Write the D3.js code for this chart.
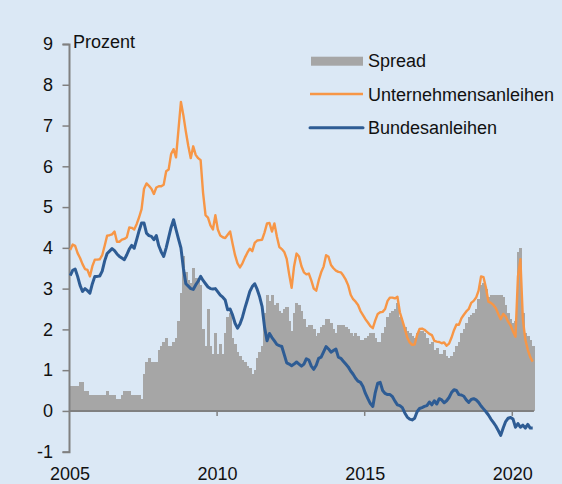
<!DOCTYPE html>
<html>
<head>
<meta charset="utf-8">
<script src="https://cdn.jsdelivr.net/npm/d3@7"></script>
<style>
  html, body { margin: 0; padding: 0; background: #dbe8f5; }
  svg { display: block; }
  text { font-family: "Liberation Sans", Arial, sans-serif; fill: #111; }
</style>
</head>
<body>
<svg id="chart" width="562" height="484"></svg>
<script>
// ---- data (monthly, January 2005 – September 2020) ----
const startYear = 2005;
const bundesanleihen = [
  3.32,3.45,3.48,3.30,3.08,2.93,3.00,2.95,2.89,3.12,3.30,3.30,
  3.31,3.43,3.68,3.86,3.92,3.98,3.93,3.85,3.79,3.75,3.71,3.83,
  3.97,4.06,3.99,4.20,4.42,4.61,4.61,4.36,4.30,4.28,4.20,4.30,
  4.05,3.90,3.79,4.00,4.25,4.50,4.69,4.45,4.22,4.00,3.50,3.12,
  3.06,3.00,2.98,3.09,3.18,3.30,3.20,3.12,3.04,3.00,2.99,3.00,
  2.92,2.84,2.79,2.72,2.48,2.50,2.35,2.15,2.03,2.13,2.30,2.52,
  2.72,2.93,3.05,3.12,2.98,2.80,2.56,2.05,1.72,1.90,1.80,1.72,
  1.63,1.60,1.58,1.38,1.18,1.15,1.11,1.15,1.20,1.15,1.10,1.15,
  1.28,1.25,1.10,1.02,1.12,1.29,1.32,1.45,1.58,1.52,1.44,1.48,
  1.52,1.32,1.29,1.22,1.15,1.08,0.98,0.90,0.80,0.73,0.70,0.60,
  0.43,0.30,0.18,0.11,0.45,0.68,0.70,0.50,0.43,0.40,0.40,0.35,
  0.24,0.15,0.13,0.08,-0.05,-0.15,-0.20,-0.22,-0.18,-0.02,0.06,0.08,
  0.11,0.13,0.22,0.15,0.25,0.17,0.30,0.27,0.20,0.25,0.33,0.45,
  0.52,0.50,0.40,0.39,0.36,0.27,0.21,0.28,0.30,0.27,0.21,0.12,
  0.05,-0.02,-0.10,-0.20,-0.28,-0.37,-0.48,-0.60,-0.42,-0.26,-0.18,-0.16,
  -0.20,-0.40,-0.31,-0.40,-0.35,-0.42,-0.33,-0.42,-0.42
];
const unternehmensanleihen = [
  3.95,4.08,4.05,3.87,3.75,3.60,3.48,3.46,3.30,3.55,3.71,3.71,
  3.72,3.82,4.05,4.30,4.31,4.33,4.40,4.15,4.15,4.20,4.22,4.26,
  4.50,4.49,4.45,4.58,4.75,4.95,5.45,5.58,5.52,5.45,5.32,5.48,
  5.51,5.51,5.55,5.88,5.92,6.30,6.42,6.22,6.90,7.58,7.25,6.85,
  6.50,6.20,6.49,6.28,6.20,6.15,5.35,4.80,4.74,4.55,4.45,4.80,
  4.45,4.30,4.26,4.24,4.32,4.40,4.10,3.82,3.62,3.52,3.62,3.76,
  3.88,3.98,3.92,4.12,4.18,4.19,4.20,4.38,4.60,4.61,4.40,4.60,
  4.28,4.02,3.97,3.90,3.73,3.35,3.02,3.55,3.86,3.79,3.55,3.40,
  3.35,3.37,3.20,3.00,2.95,3.20,3.40,3.54,3.82,3.78,3.58,3.50,
  3.44,3.41,3.40,3.32,3.22,3.08,2.85,2.74,2.68,2.60,2.45,2.35,
  2.25,2.17,2.08,2.03,2.22,2.38,2.42,2.43,2.50,2.70,2.78,2.78,
  2.76,2.80,2.42,2.22,2.02,1.80,1.68,1.62,1.63,1.86,2.01,2.02,
  1.99,1.94,1.89,1.86,1.72,1.70,1.69,1.66,1.68,1.60,1.65,1.80,
  1.98,2.12,2.11,2.27,2.36,2.44,2.50,2.65,2.70,2.78,2.95,3.30,
  3.28,3.02,2.68,2.65,2.60,2.52,2.38,2.25,2.38,2.32,2.19,2.10,
  1.95,1.82,3.30,3.72,2.25,1.75,1.50,1.32,1.21
];
const spread = [
  0.6,0.6,0.6,0.6,0.7,0.7,0.5,0.5,0.4,0.4,0.4,0.4,
  0.4,0.4,0.4,0.5,0.4,0.4,0.4,0.3,0.3,0.4,0.5,0.5,
  0.5,0.4,0.4,0.4,0.4,0.3,0.9,1.2,1.3,1.2,1.2,1.2,
  1.5,1.6,1.7,1.8,1.6,1.6,1.7,1.8,2.2,2.9,3.8,3.4,
  3.2,3.15,3.5,3.25,3.25,3.1,2.0,1.6,2.5,1.6,1.4,1.9,
  1.4,1.65,1.4,1.9,2.3,2.4,1.8,1.65,1.45,1.35,1.25,1.2,
  1.1,1.05,0.9,1.0,1.3,1.45,1.6,2.4,2.85,2.7,2.85,2.6,
  2.65,2.45,2.4,2.5,2.55,2.2,1.95,2.4,2.65,2.6,2.45,2.25,
  2.05,2.1,2.1,2.0,1.85,1.9,2.05,2.1,2.25,2.25,2.15,2.0,
  1.9,2.1,2.1,2.1,2.05,2.0,1.9,1.85,1.9,1.85,1.75,1.75,
  1.8,1.85,1.9,1.9,1.8,1.7,1.7,1.9,2.05,2.3,2.4,2.45,
  2.5,2.65,2.3,2.15,2.05,1.95,1.9,1.85,1.8,1.9,1.95,1.95,
  1.9,1.8,1.65,1.7,1.5,1.55,1.4,1.4,1.5,1.35,1.3,1.35,
  1.45,1.6,1.7,1.9,2.0,2.15,2.3,2.35,2.4,2.5,2.75,3.1,
  3.15,3.0,2.8,2.85,2.85,2.85,2.85,2.85,2.8,2.6,2.4,2.25,
  2.15,2.2,3.9,4.0,2.4,1.9,1.85,1.75,1.6
];
const yTicks = [-1, 0, 1, 2, 3, 4, 5, 6, 7, 8, 9];
const xTickYears = [2005, 2010, 2015, 2020];
const yUnit = "Prozent";
const legendLabels = ["Spread", "Unternehmensanleihen", "Bundesanleihen"];

// ---- chart ----
const svg = d3.select("#chart");
const colors = { spread: "#a6a6a6", corp: "#f79646", bund: "#2e5c94", axis: "#808080" };

const x = d3.scaleLinear().domain([2005, 2020]).range([69, 511.8]);
const y = d3.scaleLinear().domain([-1, 9]).range([451.7, 44]);
const monthT = i => startYear + i / 12;          // start of month i
const midT = i => startYear + (i + 0.5) / 12;   // middle of month i

// spread bars
svg.append("g").attr("shape-rendering", "crispEdges").selectAll("rect")
  .data(spread)
  .join("rect")
  .attr("x", (d, i) => x(monthT(i)))
  .attr("width", (d, i) => x(monthT(i + 1)) - x(monthT(i)) + 0.6)
  .attr("y", d => y(d))
  .attr("height", d => y(0) - y(d))
  .attr("fill", colors.spread);

// x axis line (at zero)
const xAxis = d3.axisBottom(x).tickValues(xTickYears.slice(1)).tickSize(5).tickFormat("");
const gx = svg.append("g").attr("transform", `translate(0,${y(0)})`).call(xAxis);
gx.select(".domain").attr("d", `M${x(2005)},0H${x(monthT(spread.length))}`)
  .attr("stroke", colors.axis).attr("stroke-width", 2);
gx.selectAll(".tick line").attr("stroke", colors.axis).attr("stroke-width", 1.5);

// x labels
svg.append("g").selectAll("text")
  .data(xTickYears)
  .join("text")
  .attr("x", d => x(d) + 1)
  .attr("y", 480)
  .attr("text-anchor", "middle")
  .attr("font-size", 18)
  .text(d => d);

// y axis
const yAxis = d3.axisLeft(y).tickValues(yTicks).tickSize(6.5).tickFormat(d => d);
const gy = svg.append("g").attr("transform", `translate(${x(2005)},0)`).call(yAxis);
gy.select(".domain").attr("stroke", colors.axis).attr("stroke-width", 2);
gy.selectAll(".tick line").attr("stroke", colors.axis).attr("stroke-width", 1.5);
gy.selectAll(".tick text")
  .attr("x", -16)
  .attr("font-size", 18)
  .attr("font-family", "Liberation Sans, Arial, sans-serif")
  .attr("fill", "#111");

svg.append("text").attr("x", 73).attr("y", 47.5).attr("font-size", 18).text(yUnit);

// lines
const line = arr => d3.line()
  .x((d, i) => x(midT(i)))
  .y(d => y(d))(arr);

svg.append("path").attr("d", line(bundesanleihen))
  .attr("fill", "none").attr("stroke", colors.bund).attr("stroke-width", 3)
  .attr("stroke-linejoin", "round");
svg.append("path").attr("d", line(unternehmensanleihen))
  .attr("fill", "none").attr("stroke", colors.corp).attr("stroke-width", 2.4)
  .attr("stroke-linejoin", "round");

// legend
const lg = svg.append("g");
lg.append("rect").attr("x", 311).attr("y", 56.7).attr("width", 52).attr("height", 9).attr("fill", colors.spread);
lg.append("line").attr("x1", 310).attr("x2", 363).attr("y1", 94).attr("y2", 94)
  .attr("stroke", colors.corp).attr("stroke-width", 2.4);
lg.append("line").attr("x1", 310).attr("x2", 363).attr("y1", 127.7).attr("y2", 127.7)
  .attr("stroke", colors.bund).attr("stroke-width", 3).attr("stroke-linecap", "round");
lg.selectAll("text.leg")
  .data(legendLabels)
  .join("text")
  .attr("class", "leg")
  .attr("x", 368)
  .attr("y", (d, i) => [67, 100.5, 134][i])
  .attr("font-size", 18)
  .text(d => d);
</script>
</body>
</html>
